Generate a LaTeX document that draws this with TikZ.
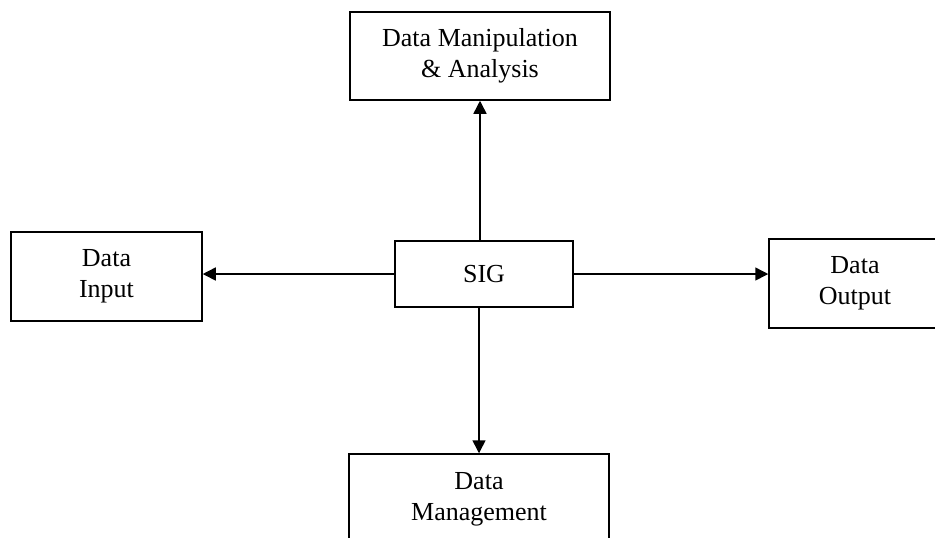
\documentclass[tikz,border=0pt]{standalone}
\usepackage{fontspec}
\setmainfont{Liberation Serif}
\usetikzlibrary{arrows.meta}

\tikzset{
	box/.style={draw, line width=0.75pt, inner sep=0pt, align=center,
		font=\fontsize{13}{15.5}\selectfont},
	link/.style={line width=0.75pt, -{Triangle[length=6.5pt, width=6.5pt]}}
}

\begin{document}
\begin{tikzpicture}[x=0.5pt, y=-0.5pt]
			%%%%% START %%%%%
			
			\useasboundingbox (0, 0) rectangle (935, 537);
			\clip (0, 0) rectangle (935, 537);
			
			\node[box, minimum width=89pt, minimum height=33pt] (sig) at (484, 274) {SIG};
			\node[box, minimum width=130pt, minimum height=44pt] (manip) at (480, 56) {Data Manipulation\\\& Analysis};
			\node[box, minimum width=95.5pt, minimum height=44.5pt] (input) at (106.5, 276.5) {Data\\Input};
			\node[box, minimum width=86pt, minimum height=44.5pt] (output) at (855, 283.5) {Data\\Output};
			\node[box, minimum width=130pt, minimum height=45pt] (manage) at (479, 499) {Data\\Management};
			
			\draw[link] (sig.north -| manip) -- (manip.south);
			\draw[link] (sig.west) -- (sig.west -| input.east);
			\draw[link] (sig.east) -- (sig.east -| output.west);
			\draw[link] (sig.south -| manage) -- (manage.north);
			
			%%%%% END %%%%%
\end{tikzpicture}
\end{document}
